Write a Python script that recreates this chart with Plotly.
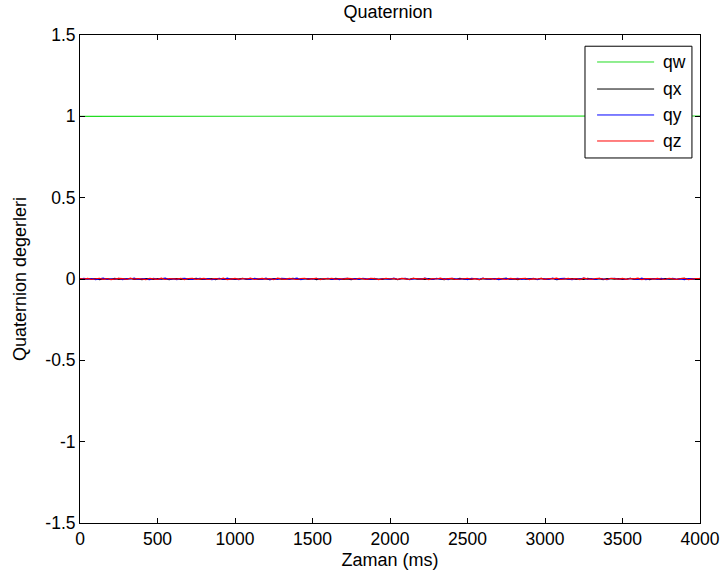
import plotly.graph_objects as go

# ---- data ----
time_ms = list(range(0, 4001, 25))

qw = ([1.000, 1.000, 0.999, 1.000, 1.000, 1.000, 0.999, 1.000, 1.000, 1.000,
       1.000, 0.999, 1.000, 1.000, 1.000, 1.000, 1.000, 0.999, 1.000, 1.000,
       1.000, 1.000, 1.000, 0.999, 1.000, 1.000, 1.000, 1.000, 1.000, 0.999,
       1.000, 1.000, 1.000, 1.000, 1.000, 1.000, 0.999, 1.000, 1.000, 1.000,
       1.000, 1.000, 1.000, 0.999, 1.000, 1.000, 1.000]
      + [1.002] * 114)

qx = [0.001, -0.003, 0.002, -0.001, 0.003, -0.004, 0.000, 0.002, -0.002, 0.004,
      -0.003, 0.001, -0.001, 0.003, -0.002, 0.000, -0.004, 0.002, 0.001, -0.003,
      0.003, -0.001, 0.002, -0.004, 0.001, 0.003, -0.002, 0.000, -0.003, 0.002,
      0.004, -0.001, -0.003, 0.001, 0.002, -0.004, 0.003, -0.002, 0.000, 0.001,
      -0.003, 0.002, 0.004, -0.002, -0.001, 0.003, -0.003, 0.001, 0.000, -0.004,
      0.002, 0.003, -0.001, -0.002, 0.001, 0.004, -0.003, 0.000, 0.002, -0.002,
      0.003, -0.004, 0.001, -0.001, 0.002, -0.003, 0.004, 0.000, -0.002, 0.001,
      -0.004, 0.003, -0.001, 0.002, -0.003, 0.001, 0.000, 0.003, -0.002, 0.002,
      -0.001, 0.002, -0.004, 0.003, 0.000, -0.002, 0.004, -0.001, 0.001, -0.003,
      0.002, -0.002, 0.003, 0.001, -0.004, 0.002, 0.000, -0.003, 0.004, -0.001,
      0.001, -0.002, 0.003, -0.004, 0.002, 0.000, -0.001, 0.003, -0.003, 0.002,
      0.004, -0.002, 0.001, -0.004, 0.003, -0.001, 0.000, 0.002, -0.003, 0.004,
      -0.002, 0.001, 0.003, -0.004, 0.000, 0.002, -0.001, 0.003, -0.002, 0.001,
      -0.003, 0.004, 0.000, -0.002, 0.002, -0.004, 0.003, 0.001, -0.001, 0.002,
      -0.003, 0.000, 0.004, -0.002, 0.001, -0.001, 0.003, -0.004, 0.002, 0.000,
      -0.002, 0.003, -0.001, 0.001, -0.003, 0.002, 0.004, -0.002, 0.000, 0.001,
      -0.001]

qy = [-0.002, 0.004, -0.001, 0.003, -0.004, 0.002, 0.005, -0.003, 0.001, -0.002,
      0.004, -0.004, 0.002, 0.000, 0.005, -0.003, 0.003, -0.001, -0.004, 0.004,
      -0.002, 0.001, 0.005, -0.003, 0.002, -0.004, 0.003, 0.004, -0.001, -0.003,
      0.002, 0.005, -0.002, 0.003, -0.004, 0.001, 0.004, -0.003, 0.005, -0.001,
      0.002, -0.004, 0.003, 0.001, -0.003, 0.004, 0.002, -0.002, 0.005, -0.004,
      0.001, -0.002, 0.004, 0.003, -0.003, 0.000, 0.005, -0.004, 0.002, 0.003,
      -0.001, 0.004, -0.003, 0.002, 0.005, -0.002, 0.001, -0.004, 0.003, 0.004,
      -0.001, 0.002, -0.003, 0.005, 0.000, -0.002, 0.004, -0.003, 0.003, 0.001,
      -0.002, 0.005, -0.003, 0.002, 0.004, -0.004, 0.001, 0.003, -0.002, 0.005,
      0.000, -0.003, 0.004, -0.001, 0.002, -0.004, 0.005, 0.001, -0.002, 0.003,
      -0.004, 0.004, 0.002, -0.001, 0.005, -0.003, 0.001, 0.003, -0.004, 0.002,
      0.004, -0.002, 0.000, 0.005, -0.003, 0.002, -0.001, 0.004, -0.004, 0.003,
      0.001, -0.002, 0.005, -0.003, 0.002, 0.004, -0.001, -0.004, 0.003, 0.000,
      0.005, -0.002, 0.002, -0.003, 0.004, 0.001, -0.004, 0.003, 0.005, -0.001,
      0.002, -0.003, 0.004, 0.000, -0.002, 0.005, -0.004, 0.001, 0.003, -0.002,
      0.004, -0.003, 0.002, 0.005, -0.001, 0.000, -0.004, 0.003, 0.002, -0.002,
      0.004]

qz = [0.003, -0.001, 0.004, -0.003, 0.002, 0.005, -0.002, 0.003, -0.004, 0.001,
      0.004, 0.002, -0.003, 0.005, -0.001, 0.003, 0.000, -0.004, 0.004, 0.002,
      -0.002, 0.005, -0.003, 0.003, 0.001, -0.001, 0.004, -0.004, 0.003, 0.005,
      -0.002, 0.002, 0.004, -0.003, 0.001, 0.003, -0.001, 0.005, -0.004, 0.002,
      0.004, -0.002, 0.003, 0.000, 0.005, -0.003, 0.002, 0.004, -0.001, 0.003,
      -0.004, 0.005, 0.001, -0.002, 0.004, 0.002, -0.003, 0.003, 0.005, -0.001,
      0.002, 0.004, -0.004, 0.003, 0.001, 0.005, -0.002, 0.003, -0.001, 0.004,
      0.002, -0.003, 0.005, 0.001, -0.002, 0.004, 0.003, -0.004, 0.002, 0.005,
      0.000, 0.003, -0.002, 0.004, 0.001, -0.003, 0.005, 0.002, -0.001, 0.004,
      -0.004, 0.003, 0.000, 0.005, -0.002, 0.002, 0.004, -0.003, 0.001, 0.003,
      0.005, -0.001, 0.002, -0.004, 0.004, 0.000, 0.003, -0.002, 0.005, 0.001,
      -0.003, 0.004, 0.002, -0.001, 0.003, 0.005, -0.004, 0.002, 0.000, 0.004,
      -0.002, 0.003, 0.001, 0.005, -0.003, 0.002, 0.004, -0.001, 0.003, -0.004,
      0.005, 0.001, -0.002, 0.003, 0.004, 0.000, -0.003, 0.005, 0.002, -0.001,
      0.004, -0.002, 0.003, 0.001, 0.005, -0.004, 0.002, 0.003, -0.001, 0.004,
      0.000, -0.003, 0.005, 0.002, -0.002, 0.003, 0.004, -0.004, 0.001, 0.003,
      0.002]

series_names = ["qw", "qx", "qy", "qz"]
series_values = [qw, qx, qy, qz]
series_colors = ["#22dd22", "#000000", "#0000ff", "#ff0000"]

x_tickvals = [0, 500, 1000, 1500, 2000, 2500, 3000, 3500, 4000]
x_ticktext = ["0", "500", "1000", "1500", "2000", "2500", "3000", "3500", "4000"]
y_tickvals = [-1.5, -1, -0.5, 0, 0.5, 1, 1.5]
y_ticktext = ["-1.5", "-1", "-0.5", "0", "0.5", "1", "1.5"]

FONT = "Liberation Sans, Arial, sans-serif"

fig = go.Figure()
for name, vals, col in zip(series_names, series_values, series_colors):
    fig.add_trace(go.Scatter(x=time_ms, y=vals, mode="lines", name=name,
                             line=dict(color=col, width=1.1), showlegend=False))

# ---- manual MATLAB-style legend ----
leg_x0, leg_x1 = 0.8145, 0.987
leg_y0, leg_y1 = 0.748, 0.977
line_x0, line_x1, text_x = 0.834, 0.926, 0.937
entry_y = [0.9447, 0.8893, 0.8361, 0.7828]

shapes = [dict(type="rect", xref="paper", yref="paper", x0=leg_x0, x1=leg_x1,
               y0=leg_y0, y1=leg_y1, line=dict(color="black", width=1),
               fillcolor="white", layer="above")]
annotations = []
for name, col, ey in zip(series_names, series_colors, entry_y):
    shapes.append(dict(type="line", xref="paper", yref="paper", x0=line_x0, x1=line_x1,
                       y0=ey, y1=ey, line=dict(color=col, width=1), layer="above"))
    annotations.append(dict(xref="paper", yref="paper", x=text_x, y=ey, text=name,
                            showarrow=False, xanchor="left", yanchor="middle",
                            font=dict(family=FONT, size=17.5, color="black")))

fig.update_layout(
    width=723, height=580,
    margin=dict(l=80, r=23, t=35, b=57),
    paper_bgcolor="white", plot_bgcolor="white",
    font=dict(family=FONT, size=17, color="black"),
    title=dict(text="Quaternion", x=0.5368, xanchor="center", y=0.98, yanchor="middle",
               font=dict(family=FONT, size=18, color="black")),
    shapes=shapes, annotations=annotations,
    xaxis=dict(range=[0, 4000], tickvals=x_tickvals, ticktext=x_ticktext,
               ticks="inside", ticklen=5, tickcolor="black", showline=True,
               linecolor="black", linewidth=1, mirror="ticks", showgrid=False,
               zeroline=False, tickfont=dict(size=17.5), automargin=False,
               title=dict(text="Zaman (ms)", font=dict(size=18), standoff=5)),
    yaxis=dict(range=[-1.5, 1.5], tickvals=y_tickvals, ticktext=y_ticktext,
               ticks="inside", ticklen=5, tickcolor="black", showline=True,
               linecolor="black", linewidth=1, mirror="ticks", showgrid=False,
               zeroline=False, tickfont=dict(size=17.5), automargin=False,
               title=dict(text="Quaternion degerleri", font=dict(size=18), standoff=14)),
)

fig.write_html("out.html")
